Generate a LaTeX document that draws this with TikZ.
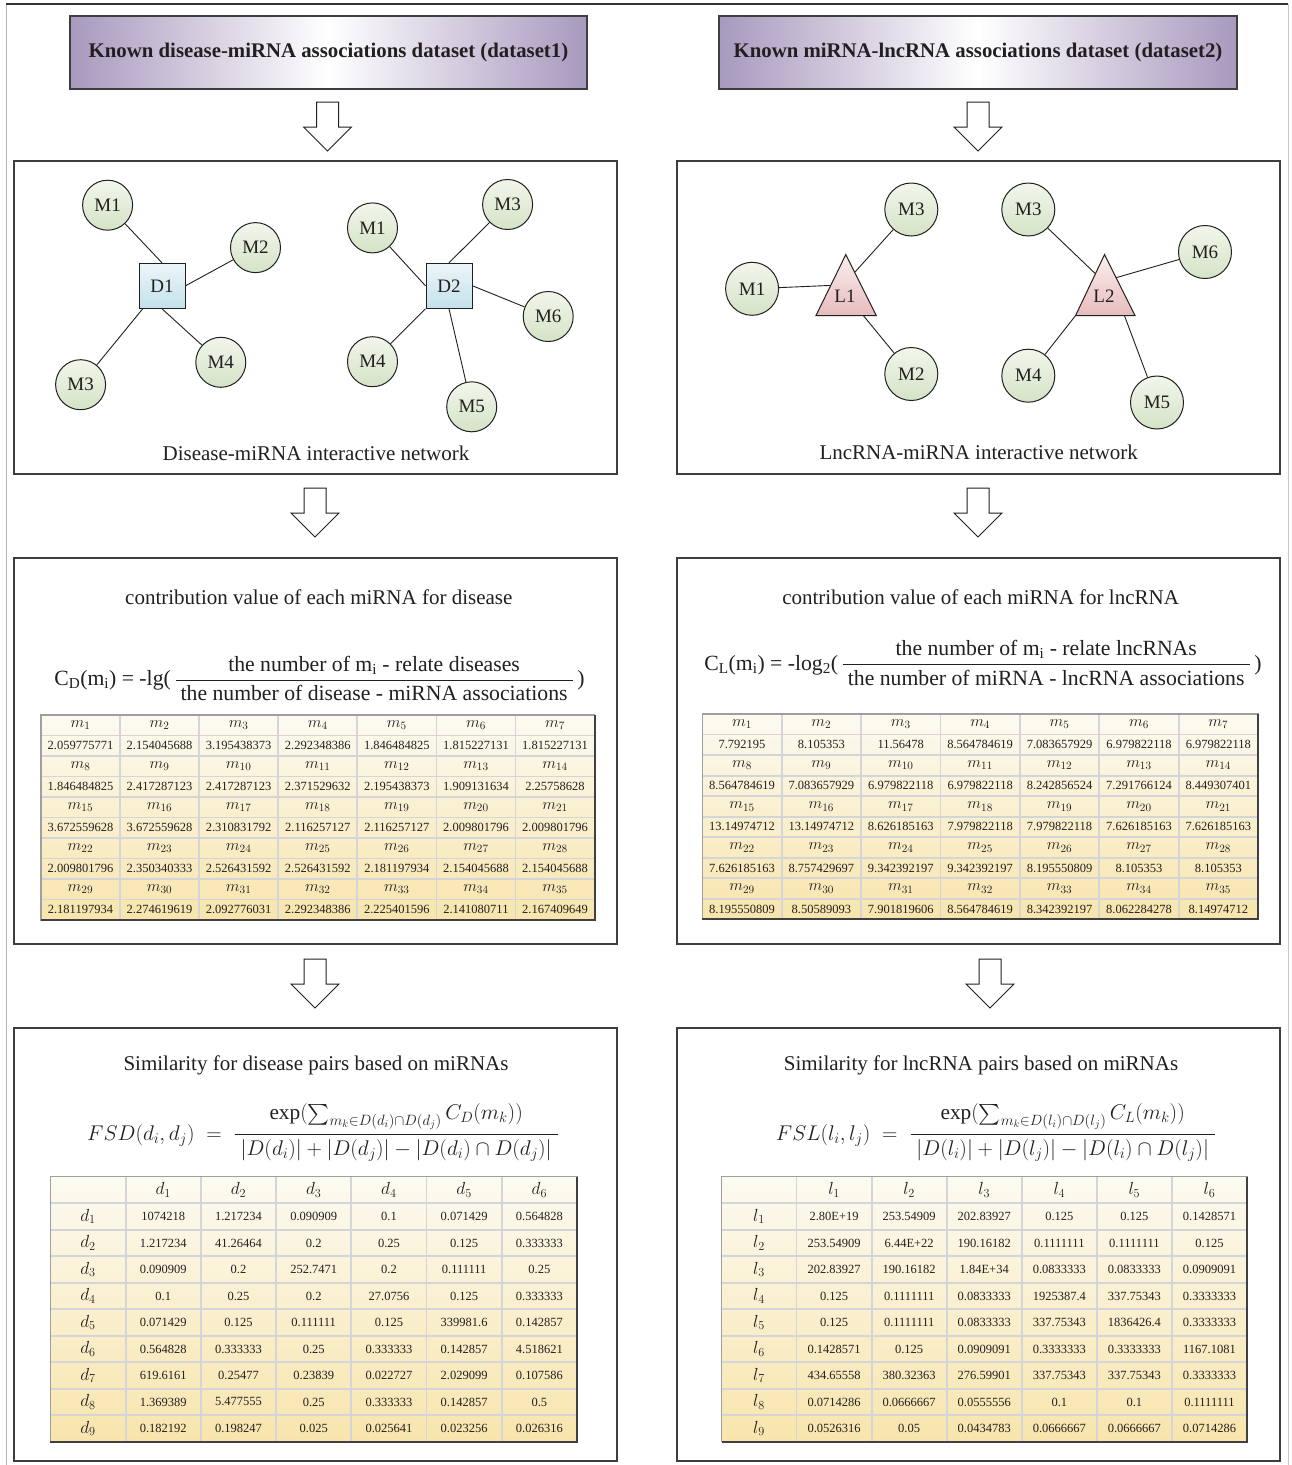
\documentclass[tikz,border=0pt]{standalone}
\usepackage{fix-cm}
\usepackage{fontspec}
\setmainfont{Liberation Serif}
\usepackage{amsmath}
\newcommand\fsz[1]{\fontsize{#1}{#1}\selectfont}
\definecolor{ink}{RGB}{35,31,32}
\definecolor{panelC}{RGB}{62,62,62}
\definecolor{hpurple}{RGB}{168,153,190}
\definecolor{greenT}{RGB}{242,246,236}
\definecolor{greenB}{RGB}{212,227,198}
\definecolor{blueT}{RGB}{236,246,250}
\definecolor{blueB}{RGB}{195,224,235}
\definecolor{pinkT}{RGB}{251,238,238}
\definecolor{pinkB}{RGB}{230,188,190}
\definecolor{tabTop}{RGB}{252,250,241}
\definecolor{tabBot}{RGB}{248,229,172}
\definecolor{tabGrid}{RGB}{212,213,216}
\tikzset{
  panel/.style={draw=panelC, line width=1.3pt},
  header/.style={draw=panelC, line width=1.2pt, left color=hpurple, right color=hpurple,
    middle color=white, minimum width=517pt, minimum height=73pt, inner sep=0pt,
    font=\fsz{20.8}\bfseries, text=ink},
  mirna/.style={circle, draw=ink, line width=1pt, top color=greenT, bottom color=greenB,
    minimum size=50pt, inner sep=0pt, font=\fsz{19}, text=ink},
  mirnaR/.style={mirna, minimum size=53pt},
  disease/.style={rectangle, draw=ink, line width=1pt, top color=blueT, bottom color=blueB,
    minimum width=46pt, minimum height=45pt, inner sep=0pt, font=\fsz{19}, text=ink},
  tri/.style={draw=ink, line width=1pt, top color=pinkT, bottom color=pinkB},
  lnc/.style={inner sep=0pt, font=\fsz{19}, text=ink},
  link/.style={draw=ink, line width=0.9pt},
  blockarrow/.style={draw=ink, line width=1pt, fill=white, line join=miter},
  title/.style={font=\fsz{21}, text=ink, inner sep=0pt},
  caption/.style={font=\fsz{21}, text=ink, inner sep=0pt},
  formula/.style={font=\fsz{21.7}, text=ink, inner sep=0pt},
  simformula/.style={font=\fsz{21.3}, text=ink, inner sep=0pt},
  tabnum/.style={font=\fsz{12.5}, text=ink, inner sep=0pt},
  tabnumB/.style={font=\fsz{12.5}, text=ink, inner sep=0pt},
  mlabel/.style={font=\fsz{16}, text=ink, inner sep=0pt},
  dlabel/.style={font=\fsz{17.5}, text=ink, inner sep=0pt},
  tabgrid/.style={draw=tabGrid, line width=1.8pt},
  tabedge/.style={draw=gray!75, line width=1.4pt},
  tabshadow/.style={draw=black!75, line width=1.8pt}
}
% hollow downward block arrow, top centre at (#1,#2)
\newcommand\blockdown[2]{%
  \draw[blockarrow, shift={(#1,#2)}] (-11,0) -- (11,0) -- (11,25) -- (24,25) -- (0,49)
    -- (-24,25) -- (-11,25) -- cycle;}
% shaded table body with grid: x0, y0, columns, rows, cell width, cell height
\newcommand\tabframe[6]{%
  \shade[top color=tabTop, bottom color=tabBot] (#1,#2) rectangle ++({#3*#5},{#4*#6});
  \foreach \i in {1,...,#3} \draw[tabgrid] ({#1+\i*#5},#2) -- ++(0,{#4*#6});
  \foreach \j in {1,...,#4} \draw[tabgrid] (#1,{#2+\j*#6}) -- ++({#3*#5},0);
  \draw[tabedge] (#1,#2) rectangle ++({#3*#5},{#4*#6});
  \draw[tabshadow] ({#1+#3*#5},#2) -- ++(0,{#4*#6}) -- ++({-#3*#5},0);}
\begin{document}
\begin{tikzpicture}[x=1pt,y=-1pt]
\useasboundingbox (0,0) rectangle (1291,1465);
\fill[white] (0,0) rectangle (1291,1465);

% outer frame
\draw[gray!60, line width=1pt] (6,1465) -- (6,4);
\draw[gray!45, line width=1pt] (1288,4) -- (1288,1465);
\draw[black!80, line width=1.2pt] (6,4) -- (1288,4);

% dataset headers
\node[header] (hd1) at (328.5,52.5) {Known disease-miRNA associations dataset (dataset1)};
\node[header, minimum width=518pt] (hd2) at (978,52.5) {Known miRNA-lncRNA associations dataset (dataset2)};

% panels
\draw[panel] (14,161) rectangle (617,474);
\draw[panel] (677,161) rectangle (1280,474);
\draw[panel] (14,558) rectangle (617,944);
\draw[panel] (677,558) rectangle (1280,944);
\draw[panel] (14,1028) rectangle (617,1461);
\draw[panel] (677,1028) rectangle (1280,1461);

% flow arrows
\blockdown{327.5}{102}
\blockdown{978}{102}
\blockdown{315}{488}
\blockdown{978}{488}
\blockdown{315}{959}
\blockdown{990}{959}

% ---------- disease-miRNA network ----------
\node[disease] (d1) at (162,285.8) {D1};
\node[mirna] (d1m1) at (107.6,205.2) {M1};
\node[mirna] (d1m2) at (255.5,247.6) {M2};
\node[mirna] (d1m3) at (80.6,384.7) {M3};
\node[mirna] (d1m4) at (220.8,362.3) {M4};
\draw[link] (d1.north) -- (d1m1);
\draw[link] (d1.east) -- (d1m2);
\draw[link] (d1.230) -- (d1m3);
\draw[link] (d1.south) -- (d1m4);

\node[disease] (d2) at (449,285.8) {D2};
\node[mirna] (d2m1) at (372.5,227.9) {M1};
\node[mirna] (d2m3) at (507.6,204.5) {M3};
\node[mirna] (d2m6) at (548.2,316.5) {M6};
\node[mirna] (d2m4) at (372.5,361.7) {M4};
\node[mirna] (d2m5) at (471.7,406.8) {M5};
\draw[link] (d2.west) -- (d2m1);
\draw[link] (d2.north) -- (d2m3);
\draw[link] (d2.east) -- (d2m6);
\draw[link] (d2.south west) -- (d2m4);
\draw[link] (d2.south) -- (d2m5);

\node[caption] (capd) at (316,453) {Disease-miRNA interactive network};

% ---------- lncRNA-miRNA network ----------
\coordinate (l1top) at (845.8,254.6);
\coordinate (l1bl) at (816,315.5);
\coordinate (l1br) at (876.3,315.5);
\draw[tri] (l1top) -- (l1bl) -- (l1br) -- cycle;
\node[lnc] (l1) at (845,296) {L1};
\coordinate (l1w) at (830.7,285.4);
\coordinate (l1ne) at (855,272);
\coordinate (l1s) at (863.3,315.5);

\coordinate (l2top) at (1104.5,254.6);
\coordinate (l2bl) at (1075.6,315.5);
\coordinate (l2br) at (1135,315.5);
\draw[tri] (l2top) -- (l2bl) -- (l2br) -- cycle;
\node[lnc] (l2) at (1104,296) {L2};
\coordinate (l2nw) at (1095.4,273.7);
\coordinate (l2ne) at (1116.1,277.7);
\coordinate (l2sw) at (1075.6,315.5);
\coordinate (l2s) at (1124.4,315.5);

\node[mirnaR] (l1m1) at (752.1,288.8) {M1};
\node[mirnaR] (l1m3) at (911.3,209.5) {M3};
\node[mirnaR] (l1m2) at (911.3,374) {M2};
\node[mirnaR] (l2m3) at (1028.3,209.5) {M3};
\node[mirnaR] (l2m6) at (1205,252) {M6};
\node[mirnaR] (l2m4) at (1028.3,375.7) {M4};
\node[mirnaR] (l2m5) at (1157,402.5) {M5};
\draw[link] (l1m1) -- (l1w);
\draw[link] (l1ne) -- (l1m3);
\draw[link] (l1s) -- (l1m2);
\draw[link] (l2nw) -- (l2m3);
\draw[link] (l2ne) -- (l2m6);
\draw[link] (l2sw) -- (l2m4);
\draw[link] (l2s) -- (l2m5);

\node[caption] (capl) at (978.7,452.6) {LncRNA-miRNA interactive network};

% ---------- contribution values ----------
\node[title] (tcd) at (318.8,597.3) {contribution value of each miRNA for disease};
\node[title] (tcl) at (980.6,597.3) {contribution value of each miRNA for lncRNA};

\node[formula] (fcd) at (319.5,678.3) {C\textsubscript{D}(m\textsubscript{i}) = -lg(\,$\genfrac{}{}{1.4pt}{0}{\mbox{the number of m\textsubscript{i} - relate diseases}}{\mbox{\hspace{5pt}the number of disease - miRNA associations\hspace{5pt}}}$\,)};
\node[formula] (fcl) at (983,662.7) {C\textsubscript{L}(m\textsubscript{i}) = -log\textsubscript{2}(\,$\genfrac{}{}{1.4pt}{0}{\mbox{the number of m\textsubscript{i} - relate lncRNAs}}{\mbox{\hspace{5pt}the number of miRNA - lncRNA associations\hspace{5pt}}}$\,)};

% disease contribution table
\begin{scope}
\def\xo{40.9}\def\yo{715}\def\cw{79.1}\def\rh{20.5}
\tabframe{\xo}{\yo}{7}{10}{\cw}{\rh}
\foreach \vals [count=\blk] in {
  {2.059775771,2.154045688,3.195438373,2.292348386,1.846484825,1.815227131,1.815227131},
  {1.846484825,2.417287123,2.417287123,2.371529632,2.195438373,1.909131634,2.25758628},
  {3.672559628,3.672559628,2.310831792,2.116257127,2.116257127,2.009801796,2.009801796},
  {2.009801796,2.350340333,2.526431592,2.526431592,2.181197934,2.154045688,2.154045688},
  {2.181197934,2.274619619,2.092776031,2.292348386,2.225401596,2.141080711,2.167409649}} {
  \foreach \v [count=\col] in \vals {
    \pgfmathtruncatemacro\idx{(\blk-1)*7+\col}
    \node[mlabel] (cdh-\idx) at ({\xo+(\col-0.5)*\cw},{\yo+(2*\blk-1.5)*\rh}) {$m_{\idx}$};
    \node[tabnum] (cdv-\idx) at ({\xo+(\col-0.5)*\cw},{\yo+(2*\blk-0.5)*\rh}) {\v};
  }
}
\end{scope}

% lncRNA contribution table
\begin{scope}
\def\xo{702.3}\def\yo{714}\def\cw{79.39}\def\rh{20.53}
\tabframe{\xo}{\yo}{7}{10}{\cw}{\rh}
\foreach \vals [count=\blk] in {
  {7.792195,8.105353,11.56478,8.564784619,7.083657929,6.979822118,6.979822118},
  {8.564784619,7.083657929,6.979822118,6.979822118,8.242856524,7.291766124,8.449307401},
  {13.14974712,13.14974712,8.626185163,7.979822118,7.979822118,7.626185163,7.626185163},
  {7.626185163,8.757429697,9.342392197,9.342392197,8.195550809,8.105353,8.105353},
  {8.195550809,8.50589093,7.901819606,8.564784619,8.342392197,8.062284278,8.14974712}} {
  \foreach \v [count=\col] in \vals {
    \pgfmathtruncatemacro\idx{(\blk-1)*7+\col}
    \node[mlabel] (clh-\idx) at ({\xo+(\col-0.5)*\cw},{\yo+(2*\blk-1.5)*\rh}) {$m_{\idx}$};
    \node[tabnum] (clv-\idx) at ({\xo+(\col-0.5)*\cw},{\yo+(2*\blk-0.5)*\rh}) {\v};
  }
}
\end{scope}

% ---------- similarity ----------
\node[title] (tsd) at (316,1065) {Similarity for disease pairs based on miRNAs};
\node[title] (tsl) at (981,1065) {Similarity for lncRNA pairs based on miRNAs};

\node[simformula] (fsd) at (323,1132.7) {$FSD(d_i, d_j)\;=\;\genfrac{}{}{1.4pt}{0}{\exp(\sum_{m_k\in D(d_i)\cap D(d_j)}C_D(m_k))}{\;|D(d_i)|+|D(d_j)|-|D(d_i)\cap D(d_j)|\;}$};
\node[simformula] (fsl) at (996,1132.7) {$FSL(l_i, l_j)\;=\;\genfrac{}{}{1.4pt}{0}{\exp(\sum_{m_k\in D(l_i)\cap D(l_j)}C_L(m_k))}{\;|D(l_i)|+|D(l_j)|-|D(l_i)\cap D(l_j)|\;}$};

% disease similarity table
\begin{scope}
\def\xo{50.4}\def\yo{1176.7}\def\cw{75.23}\def\rh{26.5}
\tabframe{\xo}{\yo}{7}{10}{\cw}{\rh}
\foreach \col in {1,...,6}
  \node[dlabel] (sdh-\col) at ({\xo+(\col+0.5)*\cw},{\yo+0.5*\rh}) {$d_{\col}$};
\foreach \vals [count=\rw] in {
  {1074218,1.217234,0.090909,0.1,0.071429,0.564828},
  {1.217234,41.26464,0.2,0.25,0.125,0.333333},
  {0.090909,0.2,252.7471,0.2,0.111111,0.25},
  {0.1,0.25,0.2,27.0756,0.125,0.333333},
  {0.071429,0.125,0.111111,0.125,339981.6,0.142857},
  {0.564828,0.333333,0.25,0.333333,0.142857,4.518621},
  {619.6161,0.25477,0.23839,0.022727,2.029099,0.107586},
  {1.369389,5.477555,0.25,0.333333,0.142857,0.5},
  {0.182192,0.198247,0.025,0.025641,0.023256,0.026316}} {
  \node[dlabel] (sdr-\rw) at ({\xo+0.5*\cw},{\yo+(\rw+0.5)*\rh}) {$d_{\rw}$};
  \foreach \v [count=\col] in \vals
    \node[tabnumB] (sd-\rw-\col) at ({\xo+(\col+0.5)*\cw},{\yo+(\rw+0.5)*\rh}) {\v};
}
\end{scope}

% lncRNA similarity table
\begin{scope}
\def\xo{721.5}\def\yo{1176.7}\def\cw{75.07}\def\rh{26.5}
\tabframe{\xo}{\yo}{7}{10}{\cw}{\rh}
\foreach \col in {1,...,6}
  \node[dlabel] (slh-\col) at ({\xo+(\col+0.5)*\cw},{\yo+0.5*\rh}) {$l_{\col}$};
\foreach \vals [count=\rw] in {
  {2.80E+19,253.54909,202.83927,0.125,0.125,0.1428571},
  {253.54909,6.44E+22,190.16182,0.1111111,0.1111111,0.125},
  {202.83927,190.16182,1.84E+34,0.0833333,0.0833333,0.0909091},
  {0.125,0.1111111,0.0833333,1925387.4,337.75343,0.3333333},
  {0.125,0.1111111,0.0833333,337.75343,1836426.4,0.3333333},
  {0.1428571,0.125,0.0909091,0.3333333,0.3333333,1167.1081},
  {434.65558,380.32363,276.59901,337.75343,337.75343,0.3333333},
  {0.0714286,0.0666667,0.0555556,0.1,0.1,0.1111111},
  {0.0526316,0.05,0.0434783,0.0666667,0.0666667,0.0714286}} {
  \node[dlabel] (slr-\rw) at ({\xo+0.5*\cw},{\yo+(\rw+0.5)*\rh}) {$l_{\rw}$};
  \foreach \v [count=\col] in \vals
    \node[tabnumB] (sl-\rw-\col) at ({\xo+(\col+0.5)*\cw},{\yo+(\rw+0.5)*\rh}) {\v};
}
\end{scope}
\end{tikzpicture}
\end{document}
